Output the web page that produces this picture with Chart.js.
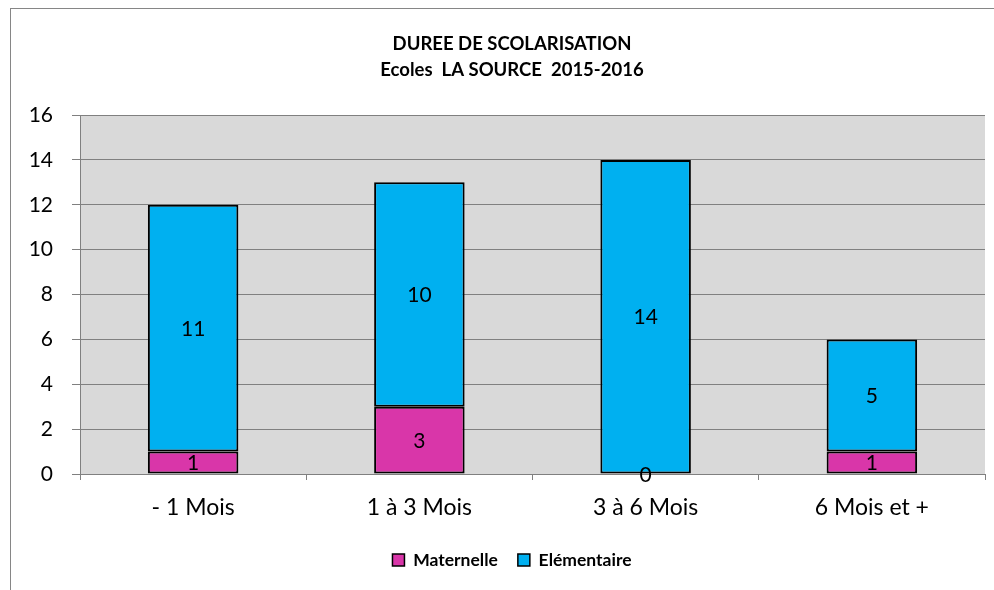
<!DOCTYPE html>
<html>
<head>
<meta charset="utf-8">
<script src="https://cdn.jsdelivr.net/npm/chart.js@4/dist/chart.umd.min.js"></script>
<style>
  html, body { margin: 0; padding: 0; background: #fff; overflow: hidden; width: 994px; height: 590px; }
  #frame { position: absolute; left: 10px; top: 8px; width: 983px; height: 581px; border-left: 1px solid #868686; border-top: 1px solid #868686; background: #fff; overflow: hidden; }
  #c { position: absolute; left: 0; top: 0; }
</style>
</head>
<body>
<div id="frame"><canvas id="c" width="1002" height="598"></canvas></div>
<script>
const categories = ['- 1 Mois', '1 à 3 Mois', '3 à 6 Mois', '6 Mois et +'];
const maternelle = [1, 3, 0, 1];
const elementaire = [11, 10, 14, 5];
const seriesNames = ['Maternelle', 'Elémentaire'];
const titleLines = ['DUREE DE SCOLARISATION', 'Ecoles  LA SOURCE  2015-2016'];
const yTicks = [0, 2, 4, 6, 8, 10, 12, 14, 16];

const FONT = 'Lato, "Open Sans", sans-serif';
const GRID = '#808080';

const plotBg = {
  id: 'plotBg',
  beforeDraw(chart) {
    const { ctx, chartArea: a } = chart;
    ctx.save();
    ctx.fillStyle = '#d9d9d9';
    ctx.fillRect(a.left, a.top, a.right - a.left, a.bottom - a.top);
    ctx.restore();
  }
};

const valueLabels = {
  id: 'valueLabels',
  afterDatasetsDraw(chart) {
    const { ctx } = chart;
    ctx.save();
    ctx.font = '21px ' + FONT;
    ctx.fillStyle = '#000';
    ctx.textAlign = 'center';
    ctx.textBaseline = 'middle';
    chart.data.datasets.forEach((ds, di) => {
      const meta = chart.getDatasetMeta(di);
      meta.data.forEach((el, i) => {
        const p = el.getProps(['x', 'y', 'base'], true);
        ctx.fillText(String(ds.data[i]), p.x, (p.y + p.base) / 2 + 1);
      });
    });
    ctx.restore();
  }
};

new Chart(document.getElementById('c'), {
  type: 'bar',
  data: {
    labels: categories,
    datasets: [
      {
        label: seriesNames[0],
        data: maternelle,
        backgroundColor: '#d936a9',
        borderColor: '#000',
        borderWidth: (c) => (c.raw === 0 ? 0 : 2),
        borderSkipped: false,
        barPercentage: 0.4,
        categoryPercentage: 1
      },
      {
        label: seriesNames[1],
        data: elementaire,
        backgroundColor: '#00b0f0',
        borderColor: '#000',
        borderWidth: 2,
        borderSkipped: false,
        barPercentage: 0.4,
        categoryPercentage: 1
      }
    ]
  },
  options: {
    responsive: false,
    animation: false,
    layout: { padding: { left: 0, right: 0, top: 0, bottom: 28.25 } },
    plugins: {
      title: {
        display: true,
        text: titleLines,
        color: '#000',
        font: { family: FONT, size: 18.5, weight: 'bold', lineHeight: '26px' },
        padding: { top: 22, bottom: 32 }
      },
      legend: {
        position: 'bottom',
        labels: {
          color: '#000',
          font: { family: FONT, size: 17.5, weight: 'bold' },
          boxWidth: 12,
          boxHeight: 12,
          padding: 20,
          generateLabels(chart) {
            return chart.data.datasets.map((ds, i) => ({
              text: ds.label,
              fillStyle: ds.backgroundColor,
              strokeStyle: '#000',
              lineWidth: 1.5,
              datasetIndex: i,
              hidden: false
            }));
          }
        }
      },
      tooltip: { enabled: false }
    },
    scales: {
      x: {
        stacked: true,
        afterFit(s) { s.height = 57.25; },
        grid: { display: true, drawOnChartArea: false, drawTicks: true, tickLength: 6, color: GRID, offset: true },
        border: { display: true, color: GRID, width: 1 },
        ticks: { color: '#000', font: { family: FONT, size: 23 }, padding: 14, maxRotation: 0 }
      },
      y: {
        stacked: true,
        min: 0,
        max: 16,
        afterFit(s) { s.width = 69; },
        afterBuildTicks(s) { s.ticks = yTicks.map(v => ({ value: v })); },
        grid: { color: GRID, lineWidth: 1, tickLength: 8, drawTicks: true },
        border: { display: true, color: GRID, width: 1 },
        ticks: { color: '#000', font: { family: FONT, size: 21 }, padding: 19 }
      },
      yRight: {
        position: 'right',
        display: true,
        afterFit(s) { s.width = 28; },
        grid: { display: false },
        border: { display: false },
        ticks: { display: false }
      }
    }
  },
  plugins: [plotBg, valueLabels]
});
</script>
</body>
</html>
